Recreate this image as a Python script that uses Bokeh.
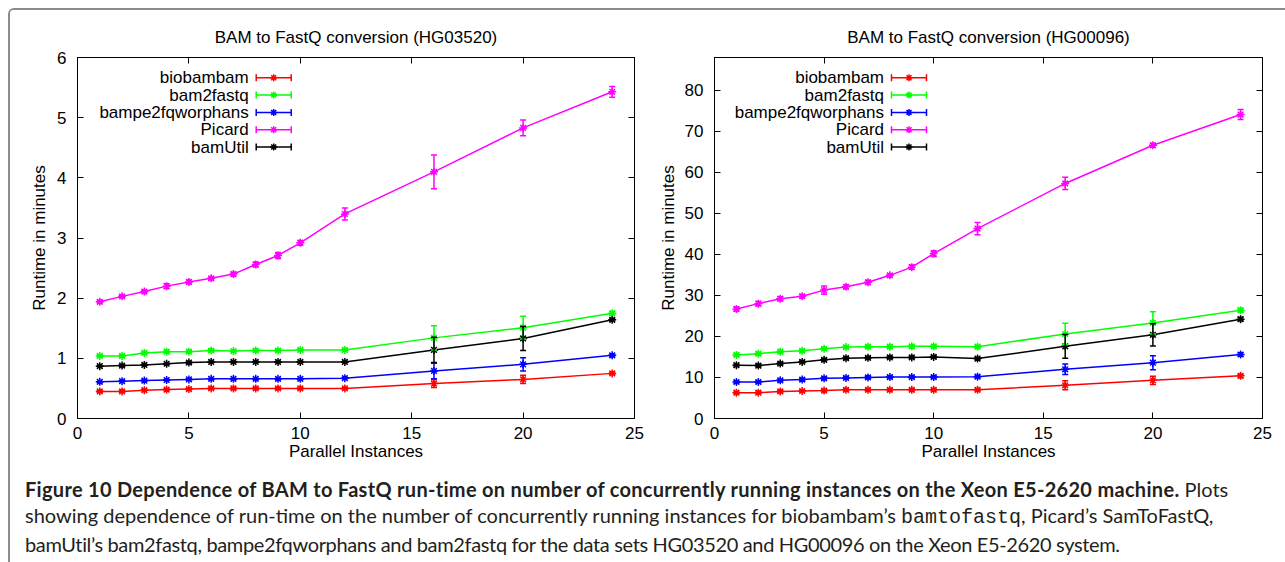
import numpy as np
from bokeh.plotting import figure
from bokeh.models import (Range1d, LinearAxis, SingleIntervalTicker, ColumnDataSource,
                          Whisker, TeeHead, Arrow, Label, Div, CustomJSTickFormatter)
from bokeh.layouts import row, column
from bokeh.embed import file_html
from bokeh.resources import INLINE

# ---------------- data ----------------
instances = [1, 2, 3, 4, 5, 6, 7, 8, 9, 10, 12, 16, 20, 24]
tools = ["biobambam", "bam2fastq", "bampe2fqworphans", "Picard", "bamUtil"]
colors = ["#ff0000", "#00ff00", "#0000ff", "#ff00ff", "#000000"]

# HG03520 (minutes)
hg03520_biobambam = [0.45, 0.45, 0.47, 0.48, 0.49, 0.50, 0.50, 0.50, 0.50, 0.50, 0.50, 0.58, 0.65, 0.75]
hg03520_bam2fastq = [1.04, 1.04, 1.09, 1.11, 1.11, 1.13, 1.12, 1.13, 1.13, 1.14, 1.14, 1.34, 1.51, 1.75]
hg03520_bampe2fq = [0.61, 0.62, 0.63, 0.64, 0.65, 0.66, 0.66, 0.66, 0.66, 0.66, 0.67, 0.79, 0.90, 1.05]
hg03520_picard = [1.94, 2.03, 2.11, 2.20, 2.27, 2.33, 2.40, 2.56, 2.71, 2.92, 3.40, 4.10, 4.83, 5.43]
hg03520_bamutil = [0.87, 0.88, 0.89, 0.91, 0.93, 0.94, 0.94, 0.94, 0.94, 0.94, 0.94, 1.14, 1.33, 1.64]

hg03520_biobambam_err = [0.015, 0.015, 0.015, 0.015, 0.015, 0.015, 0.015, 0.015, 0.015, 0.015, 0.015, 0.065, 0.07, 0.02]
hg03520_bam2fastq_err = [0.02, 0.02, 0.02, 0.02, 0.02, 0.02, 0.02, 0.02, 0.02, 0.02, 0.02, 0.20, 0.19, 0.025]
hg03520_bampe2fq_err = [0.01, 0.01, 0.01, 0.01, 0.01, 0.01, 0.01, 0.01, 0.01, 0.01, 0.01, 0.13, 0.11, 0.02]
hg03520_picard_err = [0.02, 0.02, 0.02, 0.04, 0.03, 0.02, 0.03, 0.04, 0.05, 0.04, 0.10, 0.28, 0.13, 0.09]
hg03520_bamutil_err = [0.01, 0.01, 0.01, 0.01, 0.01, 0.01, 0.01, 0.01, 0.01, 0.01, 0.01, 0.21, 0.20, 0.02]

# HG00096 (minutes)
hg00096_biobambam = [6.3, 6.3, 6.6, 6.7, 6.8, 7.0, 7.0, 7.0, 7.0, 7.0, 7.0, 8.1, 9.3, 10.4]
hg00096_bam2fastq = [15.5, 15.8, 16.3, 16.5, 17.0, 17.4, 17.5, 17.5, 17.6, 17.6, 17.5, 20.6, 23.3, 26.4]
hg00096_bampe2fq = [8.9, 8.9, 9.3, 9.5, 9.8, 9.9, 10.0, 10.1, 10.1, 10.1, 10.2, 12.0, 13.6, 15.6]
hg00096_picard = [26.7, 28.0, 29.2, 29.8, 31.3, 32.1, 33.2, 34.9, 36.9, 40.2, 46.3, 57.3, 66.6, 74.1]
hg00096_bamutil = [13.0, 12.9, 13.4, 13.8, 14.3, 14.7, 14.8, 14.9, 14.9, 15.0, 14.6, 17.6, 20.4, 24.2]

hg00096_biobambam_err = [0.3, 0.3, 0.3, 0.3, 0.3, 0.3, 0.3, 0.3, 0.3, 0.3, 0.3, 1.1, 1.0, 0.4]
hg00096_bam2fastq_err = [0.3, 0.3, 0.3, 0.3, 0.3, 0.3, 0.3, 0.3, 0.3, 0.3, 0.3, 2.6, 2.7, 0.4]
hg00096_bampe2fq_err = [0.3, 0.3, 0.3, 0.3, 0.3, 0.3, 0.3, 0.3, 0.3, 0.3, 0.3, 1.3, 1.7, 0.4]
hg00096_picard_err = [0.5, 0.5, 0.5, 0.4, 1.0, 0.5, 0.5, 0.4, 0.5, 0.7, 1.5, 1.5, 0.5, 1.2]
hg00096_bamutil_err = [0.3, 0.3, 0.3, 0.3, 0.3, 0.3, 0.3, 0.3, 0.3, 0.3, 0.3, 2.9, 2.7, 0.4]

FONT = "Liberation Sans"
FS = "17px"
FIG_H = 460
B_TOP, B_BOTTOM = 47, 52


def make_plot(title, series, errors, ymax, ystep, width, bl, br, ylab_standoff, leg_x):
    frame_w = width - bl - br
    frame_h = FIG_H - B_TOP - B_BOTTOM
    p = figure(width=width, height=FIG_H, x_range=Range1d(0, 25), y_range=Range1d(0, ymax),
               output_backend="svg", toolbar_location=None,
               min_border_left=bl, min_border_right=br, min_border_top=B_TOP,
               min_border_bottom=B_BOTTOM,
               x_axis_label="Parallel Instances", y_axis_label="Runtime in minutes",
               title=title)
    # pixel coordinate system of the frame (used only for the key)
    p.extra_x_ranges = {"px": Range1d(0, frame_w)}
    p.extra_y_ranges = {"px": Range1d(0, frame_h)}

    p.title.align = "center"
    p.title.text_font = FONT
    p.title.text_font_size = FS
    p.title.text_font_style = "normal"
    p.title.text_color = "black"
    p.title.standoff = 13
    p.grid.visible = False
    p.outline_line_color = "black"
    p.outline_line_alpha = 1.0
    p.background_fill_color = "white"
    p.border_fill_color = "white"

    p.xaxis.ticker = SingleIntervalTicker(interval=5)
    p.yaxis.ticker = SingleIntervalTicker(interval=ystep)
    for ax in (p.xaxis[0], p.yaxis[0]):
        ax.axis_line_color = "black"
        ax.major_tick_in = 6
        ax.major_tick_out = 0
        ax.major_tick_line_color = "black"
        ax.minor_tick_line_color = None
        ax.major_label_text_font = FONT
        ax.major_label_text_font_size = FS
        ax.major_label_text_color = "black"
        ax.axis_label_text_font = FONT
        ax.axis_label_text_font_size = FS
        ax.axis_label_text_font_style = "normal"
        ax.axis_label_text_color = "black"
    p.xaxis.major_label_standoff = 4
    p.xaxis.axis_label_standoff = 0
    p.yaxis.major_label_standoff = 7
    p.yaxis.axis_label_standoff = ylab_standoff

    # mirrored ticks (gnuplot style), no labels
    for side, step in (("right", ystep), ("above", 5)):
        ax = LinearAxis(ticker=SingleIntervalTicker(interval=step),
                        formatter=CustomJSTickFormatter(code="return ''"),
                        major_label_standoff=0,
                        major_tick_in=6, major_tick_out=0, minor_tick_line_color=None,
                        axis_line_color="black", major_tick_line_color="black")
        p.add_layout(ax, side)

    for name, vals, errs, color in zip(tools, series, errors, colors):
        v = np.array(vals, dtype=float)
        e = np.array(errs, dtype=float)
        src = ColumnDataSource(dict(x=instances, y=v, upper=v + e, lower=v - e))
        w = Whisker(source=src, base="x", upper="upper", lower="lower",
                    line_color=color, line_width=1.5, level="glyph",
                    upper_head=TeeHead(size=6, line_color=color, line_width=1.5),
                    lower_head=TeeHead(size=6, line_color=color, line_width=1.5))
        p.add_layout(w)
        p.line("x", "y", source=src, line_color=color, line_width=1.5)
        p.scatter("x", "y", source=src, marker="asterisk", size=8,
                  line_color=color, line_width=1.5)

    # gnuplot-style key: text right-aligned, sample (with caps and point) on the right
    step = 17.3
    top_c = frame_h - 20.3
    key_y = [top_c - step * i for i in range(len(tools))]
    for name, color, yc in zip(tools, colors, key_y):
        p.add_layout(Arrow(x_start=leg_x, y_start=yc, x_end=leg_x + 35, y_end=yc,
                           start_units="screen", end_units="screen",
                           line_color=color, line_width=1.5,
                           start=TeeHead(size=7, line_color=color, line_width=1.5),
                           end=TeeHead(size=7, line_color=color, line_width=1.5)))
        p.add_layout(Label(x=leg_x - 7.5, y=yc, x_units="screen", y_units="screen",
                           text=name, text_align="right", text_baseline="middle",
                           text_font=FONT, text_font_size=FS, text_color="black"))
    key_src = ColumnDataSource(dict(x=[leg_x + 17.5] * len(tools), y=key_y, c=colors))
    p.scatter("x", "y", source=key_src, marker="asterisk", size=7, line_color="c",
              line_width=1.5, x_range_name="px", y_range_name="px")
    return p


p1 = make_plot("BAM to FastQ conversion (HG03520)",
               [hg03520_biobambam, hg03520_bam2fastq, hg03520_bampe2fq, hg03520_picard, hg03520_bamutil],
               [hg03520_biobambam_err, hg03520_bam2fastq_err, hg03520_bampe2fq_err, hg03520_picard_err,
                hg03520_bamutil_err],
               6, 1, 640, 67, 16, 5, 178.7)
p2 = make_plot("BAM to FastQ conversion (HG00096)",
               [hg00096_biobambam, hg00096_bam2fastq, hg00096_bampe2fq, hg00096_picard, hg00096_bamutil],
               [hg00096_biobambam_err, hg00096_bam2fastq_err, hg00096_bampe2fq_err, hg00096_picard_err,
                hg00096_bamutil_err],
               88, 10, 635, 64, 23, 4, 177)

caption_html = (
    '<div style="font-family: Lato, sans-serif; font-size: 20px; line-height: 26px; color: #231f20; '
    'white-space: nowrap; padding: 1px 0 0 10px;">'
    '<b style="letter-spacing: 0.3px;">Figure 10 Dependence of BAM to FastQ run-time on number of '
    'concurrently running instances on the Xeon E5-2620 machine.</b> Plots<br>'
    'showing dependence of run-time on the number of concurrently running instances for biobambam\u2019s '
    '<span style="font-family: \'Liberation Mono\', monospace;">bamtofastq</span>, Picard\u2019s SamToFastQ,<br>'
    '<span style="letter-spacing: -0.35px;">bamUtil\u2019s bam2fastq, bampe2fqworphans and bam2fastq for the '
    'data sets HG03520 and HG00096 on the Xeon E5-2620 system.</span></div>'
)
caption = Div(text=caption_html, width=1275, height=91)

layout = column(row(p1, p2), caption, margin=(8, 0, 0, 8),
                styles={"border-top": "2px solid #8c8c8c", "border-left": "2px solid #8c8c8c",
                        "border-top-left-radius": "6px"})

open("out.html", "w").write(file_html(layout, INLINE))
